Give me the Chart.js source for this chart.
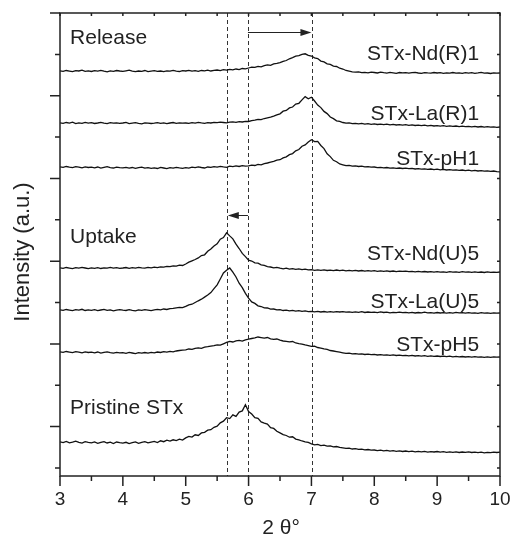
<!DOCTYPE html>
<html>
<head>
<meta charset="utf-8">
<script src="https://cdn.jsdelivr.net/npm/chart.js@4/dist/chart.umd.min.js"></script>
<style>
  body { margin: 0; background: #fff; }
  #wrap { width: 511px; height: 536px; position: relative; }
</style>
</head>
<body>
<div id="wrap"><canvas id="myChart"></canvas></div>
<script>
// 2 theta scan, 3 to 10 deg, step 0.05
const angles = Array.from({ length: 141 }, (_, i) => +(3 + i * 0.05).toFixed(2));

const sampleNames = ['STx-Nd(R)1', 'STx-La(R)1', 'STx-pH1', 'STx-Nd(U)5', 'STx-La(U)5', 'STx-pH5', 'Pristine STx'];

// stacked intensities (offset already included), rows of 0.5 deg
const ndR1 = [
  4052, 4046, 4055, 4049, 4043, 4054, 4050, 4058, 4047, 4051,
  4045, 4053, 4049, 4056, 4048, 4042, 4051, 4047, 4055, 4050,
  4046, 4052, 4058, 4049, 4044, 4050, 4047, 4055, 4043, 4049,
  4053, 4046, 4050, 4044, 4052, 4048, 4056, 4049, 4045, 4054,
  4050, 4057, 4048, 4053, 4046, 4055, 4051, 4059, 4050, 4056,
  4060, 4054, 4063, 4058, 4066, 4061, 4070, 4064, 4075, 4071,
  4080, 4089, 4086, 4097, 4092, 4104, 4112, 4107, 4121, 4126,
  4133, 4146, 4155, 4172, 4184, 4198, 4203, 4217, 4222, 4206,
  4200, 4182, 4174, 4149, 4141, 4122, 4116, 4099, 4095, 4078,
  4070, 4055, 4048, 4041, 4038, 4042, 4033, 4037, 4031, 4039,
  4035, 4030, 4038, 4033, 4029, 4036, 4032, 4027, 4035, 4031,
  4034, 4028, 4033, 4037, 4030, 4026, 4034, 4031, 4029, 4035,
  4030, 4033, 4027, 4032, 4029, 4035, 4028, 4031, 4026, 4033,
  4029, 4034, 4027, 4031, 4036, 4028, 4030, 4025, 4032, 4029,
  4030
];
const laR1 = [
  3532, 3526, 3535, 3529, 3538, 3524, 3531, 3527, 3536, 3528,
  3533, 3525, 3530, 3537, 3529, 3523, 3534, 3528, 3531, 3526,
  3530, 3536, 3524, 3529, 3533, 3527, 3522, 3531, 3528, 3525,
  3529, 3534, 3526, 3531, 3524, 3530, 3535, 3527, 3532, 3528,
  3530, 3526, 3533, 3529, 3536, 3531, 3527, 3534, 3530, 3537,
  3533, 3539, 3535, 3531, 3538, 3542, 3536, 3544, 3540, 3546,
  3545, 3553, 3558, 3566, 3563, 3575, 3582, 3589, 3598, 3611,
  3622, 3648, 3655, 3681, 3690, 3719, 3727, 3761, 3794, 3772,
  3788, 3750, 3709, 3684, 3646, 3624, 3590, 3574, 3552, 3546,
  3535, 3529, 3532, 3524, 3527, 3521, 3526, 3519, 3523, 3517,
  3521, 3515, 3519, 3513, 3518, 3512, 3516, 3510, 3514, 3509,
  3513, 3507, 3511, 3505, 3509, 3503, 3508, 3502, 3506, 3500,
  3504, 3499, 3503, 3497, 3501, 3496, 3500, 3494, 3498, 3493,
  3497, 3492, 3496, 3490, 3495, 3489, 3493, 3488, 3492, 3487,
  3490
];
const pH1 = [
  3092, 3086, 3095, 3088, 3083, 3094, 3089, 3081, 3091, 3085,
  3088, 3082, 3090, 3079, 3086, 3093, 3084, 3080, 3089, 3083,
  3081, 3087, 3079, 3085, 3076, 3083, 3089, 3078, 3084, 3077,
  3082, 3075, 3086, 3080, 3074, 3083, 3078, 3087, 3081, 3076,
  3084, 3079, 3088, 3083, 3091, 3085, 3080, 3090, 3086, 3094,
  3089, 3096, 3091, 3087, 3098, 3093, 3101, 3095, 3103, 3099,
  3102, 3109, 3105, 3116, 3112, 3124, 3130, 3138, 3146, 3158,
  3163, 3181, 3192, 3214, 3224, 3252, 3265, 3298, 3311, 3340,
  3362, 3344, 3346, 3305, 3274, 3222, 3194, 3157, 3143, 3120,
  3112, 3104, 3107, 3099, 3102, 3095, 3098, 3091, 3094, 3088,
  3090, 3084, 3087, 3081, 3085, 3079, 3082, 3076, 3080, 3075,
  3078, 3073, 3076, 3070, 3074, 3068, 3072, 3066, 3070, 3064,
  3068, 3062, 3066, 3060, 3064, 3058, 3062, 3056, 3060, 3054,
  3058, 3052, 3056, 3050, 3054, 3048, 3052, 3046, 3050, 3044,
  3042
];
const ndU5 = [
  2082, 2076, 2085, 2079, 2073, 2084, 2078, 2086, 2080, 2074,
  2081, 2077, 2084, 2075, 2082, 2078, 2086, 2079, 2083, 2076,
  2080, 2085, 2077, 2083, 2079, 2087, 2081, 2078, 2086, 2082,
  2088, 2084, 2092, 2089, 2097, 2093, 2101, 2098, 2109, 2105,
  2120, 2138, 2152, 2165, 2181, 2205, 2212, 2248, 2270, 2300,
  2322, 2368, 2385, 2432, 2401, 2372, 2318, 2275, 2226, 2194,
  2158, 2150, 2131, 2128, 2112, 2106, 2094, 2090, 2082, 2086,
  2078, 2072, 2079, 2069, 2074, 2066, 2071, 2064, 2069, 2062,
  2063, 2057, 2062, 2056, 2061, 2055, 2059, 2054, 2060, 2053,
  2058, 2052, 2057, 2051, 2056, 2050, 2055, 2049, 2054, 2048,
  2053, 2047, 2052, 2046, 2051, 2045, 2050, 2044, 2049, 2046,
  2048, 2043, 2047, 2042, 2046, 2041, 2045, 2040, 2044, 2039,
  2043, 2038, 2042, 2037, 2044, 2039, 2041, 2036, 2043, 2038,
  2042, 2037, 2041, 2036, 2040, 2035, 2042, 2037, 2039, 2036,
  2040
];
const laU5 = [
  1662, 1656, 1665, 1659, 1653, 1664, 1658, 1667, 1655, 1661,
  1657, 1663, 1654, 1660, 1666, 1656, 1662, 1652, 1659, 1664,
  1658, 1655, 1663, 1657, 1652, 1661, 1656, 1664, 1659, 1654,
  1662, 1667, 1661, 1670, 1665, 1673, 1676, 1681, 1686, 1684,
  1696, 1712, 1718, 1735, 1752, 1768, 1789, 1810, 1834, 1873,
  1912, 1970, 2030, 2058, 2080, 2038, 1990, 1928, 1884, 1826,
  1778, 1741, 1726, 1702, 1695, 1681, 1680, 1669, 1670, 1662,
  1664, 1655, 1658, 1651, 1656, 1648, 1653, 1646, 1651, 1644,
  1647, 1641, 1646, 1640, 1645, 1639, 1644, 1638, 1643, 1640,
  1644, 1638, 1642, 1636, 1641, 1637, 1643, 1635, 1640, 1636,
  1639, 1634, 1641, 1635, 1638, 1632, 1637, 1633, 1639, 1634,
  1637, 1632, 1636, 1630, 1635, 1631, 1638, 1632, 1634, 1629,
  1635, 1630, 1634, 1628, 1633, 1629, 1636, 1631, 1633, 1628,
  1634, 1629, 1632, 1627, 1633, 1628, 1631, 1626, 1632, 1628,
  1630
];
const pH5 = [
  1242, 1236, 1245, 1239, 1233, 1244, 1238, 1231, 1241, 1235,
  1238, 1232, 1240, 1229, 1236, 1242, 1233, 1228, 1237, 1231,
  1234, 1227, 1236, 1230, 1224, 1233, 1228, 1235, 1229, 1237,
  1232, 1240, 1235, 1243, 1238, 1246, 1241, 1250, 1255, 1259,
  1261, 1270, 1266, 1276, 1281, 1277, 1288, 1293, 1299, 1304,
  1312, 1308, 1322, 1336, 1347, 1340, 1351, 1356, 1349, 1362,
  1368, 1375, 1381, 1390, 1384, 1378, 1385, 1372, 1366, 1370,
  1358, 1350, 1347, 1341, 1345, 1330, 1324, 1319, 1311, 1304,
  1296, 1298, 1285, 1279, 1271, 1266, 1255, 1250, 1244, 1238,
  1232, 1226, 1229, 1221, 1224, 1218, 1222, 1215, 1219, 1213,
  1216, 1210, 1214, 1208, 1212, 1206, 1211, 1205, 1209, 1204,
  1207, 1202, 1206, 1200, 1204, 1199, 1203, 1197, 1202, 1196,
  1200, 1195, 1199, 1193, 1198, 1192, 1196, 1191, 1195, 1190,
  1194, 1189, 1193, 1188, 1192, 1187, 1191, 1186, 1192, 1188,
  1190
];
const pristine = [
  342, 334, 346, 331, 338, 349, 336, 329, 343, 337,
  332, 341, 327, 336, 344, 330, 338, 325, 340, 333,
  329, 337, 324, 333, 341, 327, 336, 344, 331, 339,
  346, 335, 352, 343, 358, 349, 362, 354, 368, 359,
  381, 396, 389, 412, 405, 431, 437, 458, 463, 487,
  498, 532, 548, 583, 574, 611, 596, 639, 651, 712,
  645, 620, 584, 576, 541, 528, 519, 483, 476, 448,
  431, 414, 405, 388, 392, 369, 361, 350, 342, 336,
  322, 311, 316, 304, 309, 298, 302, 291, 295, 287,
  282, 276, 279, 270, 273, 266, 269, 262, 265, 258,
  260, 254, 258, 251, 256, 249, 253, 247, 252, 245,
  250, 244, 248, 242, 247, 241, 246, 239, 244, 240,
  245, 238, 243, 237, 242, 236, 241, 235, 240, 236,
  241, 235, 239, 233, 238, 232, 237, 234, 239, 235,
  238
];
const seriesValues = [ndR1, laR1, pH1, ndU5, laU5, pH5, pristine];

// axis ticks
const xTicks = [3, 4, 5, 6, 7, 8, 9, 10];
const xTickLabels = ['3', '4', '5', '6', '7', '8', '9', '10'];
const yTicks = [80, 494, 907, 1321, 1734, 2148, 2562, 2975, 3389, 3802, 4216, 4630];

// peak positions (dashed) and shift arrows
const dashAngles = [5.66, 5.99, 7.01];
const arrowFrom = [5.99, 5.99];
const arrowTo = [7.0, 5.67];
const arrowLevel = [4440, 2610];

// sample labels at right, group labels at left
const labelLevels = [4213, 3615, 3170, 2220, 1735, 1310];
const groupNames = ['Release', 'Uptake', 'Pristine STx'];
const groupLevels = [4380, 2385, 680];

document.addEventListener('DOMContentLoaded', function() {
    const INK = '#222';
    const FONT = '"Liberation Sans", Arial, sans-serif';

    const decor = {
        id: 'decor',
        beforeDatasetsDraw(chart) {
            const c = chart.ctx, a = chart.chartArea, xs = chart.scales.x;
            c.save();
            c.strokeStyle = '#333';
            c.lineWidth = 1;
            c.setLineDash([4, 3]);
            dashAngles.forEach(v => {
                const px = Math.round(xs.getPixelForValue(v)) + 0.5;
                c.beginPath();
                c.moveTo(px, a.top);
                c.lineTo(px, a.bottom);
                c.stroke();
            });
            c.restore();
        },
        afterDatasetsDraw(chart) {
            const c = chart.ctx, a = chart.chartArea;
            const xs = chart.scales.x, ys = chart.scales.y;
            c.save();
            c.strokeStyle = INK;
            c.fillStyle = INK;

            // frame
            c.lineWidth = 1.5;
            c.strokeRect(a.left, a.top, a.right - a.left, a.bottom - a.top);

            // x ticks: outward at bottom, short inward at top
            xTicks.forEach((v, i) => {
                const px = xs.getPixelForValue(v);
                c.beginPath();
                c.moveTo(px, a.bottom); c.lineTo(px, a.bottom + 10);
                c.moveTo(px, a.top); c.lineTo(px, a.top + 3);
                if (i < xTicks.length - 1) {
                    const pm = xs.getPixelForValue(v + 0.5);
                    c.moveTo(pm, a.bottom); c.lineTo(pm, a.bottom + 5);
                    c.moveTo(pm, a.top); c.lineTo(pm, a.top + 3);
                }
                c.stroke();
            });

            // y ticks: alternate long / short outward on left, short inward on right
            yTicks.forEach((v, i) => {
                const py = ys.getPixelForValue(v);
                const len = i % 2 === 1 ? 10 : 5;
                c.beginPath();
                c.moveTo(a.left, py); c.lineTo(a.left - len, py);
                c.moveTo(a.right, py); c.lineTo(a.right - 3, py);
                c.stroke();
            });

            // tick labels
            c.font = '19px ' + FONT;
            c.textAlign = 'center';
            c.textBaseline = 'middle';
            xTicks.forEach((v, i) => {
                c.fillText(xTickLabels[i], xs.getPixelForValue(v), a.bottom + 24);
            });

            // axis titles
            c.font = '21px ' + FONT;
            c.fillText('2 \u03B8\u00B0', (a.left + a.right) / 2 + 1, a.bottom + 52);
            c.save();
            c.translate(23, 252);
            c.rotate(-Math.PI / 2);
            c.font = '22px ' + FONT;
            c.fillText('Intensity (a.u.)', 0, 0);
            c.restore();

            // sample labels
            c.font = '21px ' + FONT;
            c.textAlign = 'right';
            labelLevels.forEach((v, i) => {
                c.fillText(sampleNames[i], xs.getPixelForValue(9.667), ys.getPixelForValue(v));
            });
            c.textAlign = 'left';
            groupNames.forEach((name, i) => {
                c.fillText(name, xs.getPixelForValue(3.16), ys.getPixelForValue(groupLevels[i]));
            });

            // shift arrows
            c.lineWidth = 1;
            arrowFrom.forEach((v, i) => {
                const x1 = xs.getPixelForValue(v);
                const x2 = xs.getPixelForValue(arrowTo[i]);
                const py = Math.round(ys.getPixelForValue(arrowLevel[i])) + 0.5;
                const dir = x2 > x1 ? 1 : -1;
                c.beginPath();
                c.moveTo(x1, py);
                c.lineTo(x2 - dir * 8, py);
                c.stroke();
                c.beginPath();
                c.moveTo(x2, py);
                c.lineTo(x2 - dir * 11, py - 3.5);
                c.lineTo(x2 - dir * 11, py + 3.5);
                c.closePath();
                c.fill();
            });
            c.restore();
        }
    };

    const data = {
        datasets: seriesValues.map((vals, i) => ({
            label: sampleNames[i],
            data: vals.map((y, j) => ({ x: angles[j], y: y })),
            borderColor: '#111',
            borderWidth: 1.3,
            pointRadius: 0,
            tension: 0,
            fill: false
        }))
    };

    const config = {
        type: 'line',
        data: data,
        options: {
            responsive: true,
            maintainAspectRatio: false,
            animation: false,
            layout: { padding: { left: 60, top: 13, right: 11, bottom: 60 } },
            scales: {
                x: { type: 'linear', min: 3, max: 10, display: false },
                y: { type: 'linear', min: 0, max: 4630, display: false }
            },
            plugins: {
                legend: { display: false },
                tooltip: { enabled: false }
            }
        },
        plugins: [decor]
    };

    new Chart(document.getElementById('myChart').getContext('2d'), config);
});
</script>
</body>
</html>
